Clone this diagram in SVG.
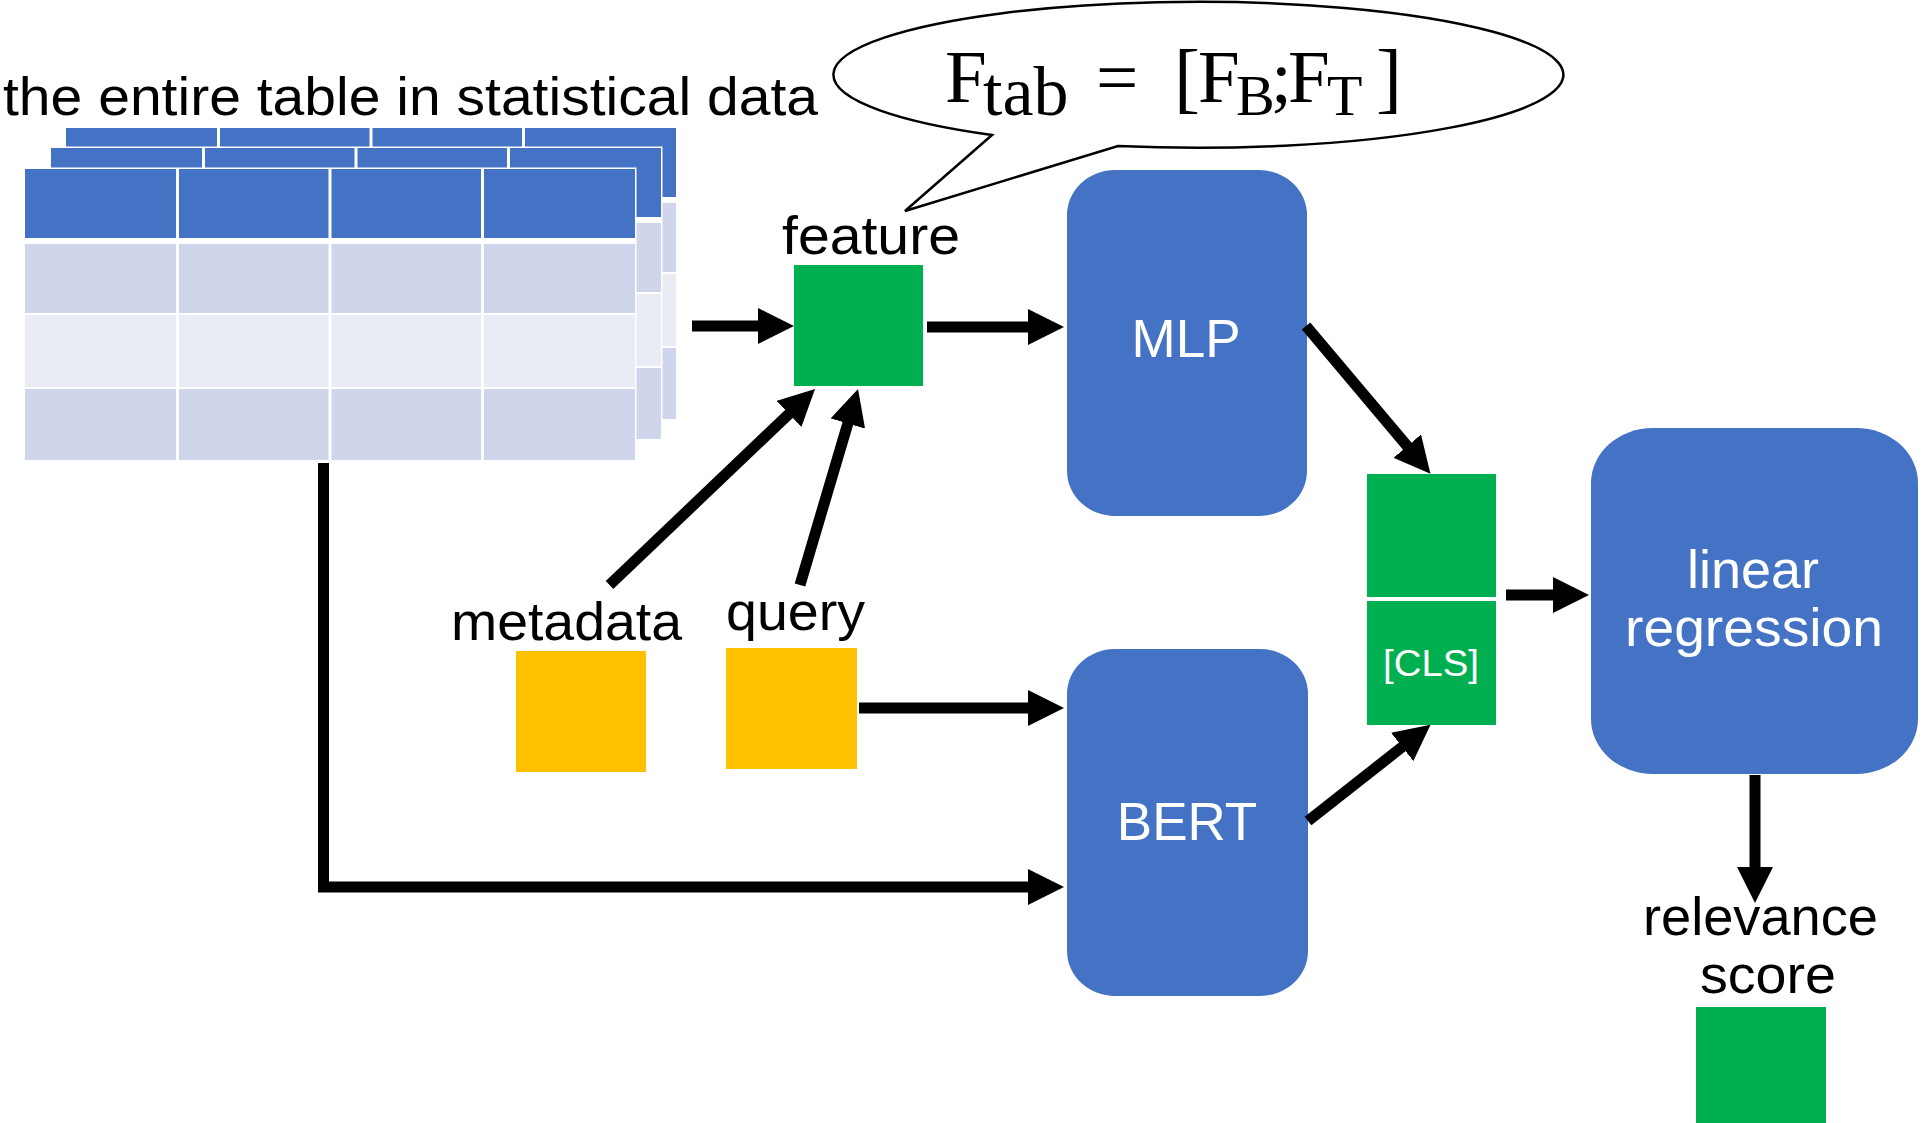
<svg xmlns="http://www.w3.org/2000/svg" width="1921" height="1123" viewBox="0 0 1921 1123">
  <style>
    .lbl { font-family: "Liberation Sans", Arial, sans-serif; fill: #000; }
    .wlbl { font-family: "Liberation Sans", Arial, sans-serif; fill: #fff; text-anchor: middle; }
    .math { font-family: "Liberation Serif", "Times New Roman", serif; fill: #000; }
    .blue { fill: #4472C4; }
    .green { fill: #00B050; }
    .yellow { fill: #FFC000; }
    .conn { fill: none; stroke: #000; stroke-width: 11; stroke-linejoin: miter; marker-end: url(#ah); }
    .hdr { fill: #4472C4; }
    .r1 { fill: #CFD5EA; }
    .r2 { fill: #E9EBF5; }
    .grid { stroke: #fff; stroke-width: 3; fill: none; }
  </style>
  <defs>
    <marker id="ah" markerUnits="userSpaceOnUse" markerWidth="36" markerHeight="36" viewBox="0 0 36 36" refX="1" refY="18" orient="auto">
      <path d="M0,0 L36,18 L0,36 Z" fill="#000"/>
    </marker>
    <g id="table">
      <rect x="0" y="0" width="610" height="291" fill="#fff" stroke="#fff" stroke-width="3"/>
      <rect class="hdr" x="0" y="0" width="610" height="69"/>
      <rect class="r1" x="0" y="75" width="610" height="69"/>
      <rect class="r2" x="0" y="146" width="610" height="72"/>
      <rect class="r1" x="0" y="220" width="610" height="71"/>
      <path class="grid" d="M152.5,0V291 M305,0V291 M457.5,0V291"/>
    </g>
  </defs>
  <rect width="1921" height="1123" fill="#fff"/>

  <g id="tables">
    <use href="#table" x="66" y="128"/>
    <use href="#table" x="51" y="148"/>
    <use href="#table" x="25" y="169"/>
    <text class="lbl" x="3" y="115" style="font-size:53px" textLength="815" lengthAdjust="spacingAndGlyphs">the entire table in statistical data</text>
  </g>

  <g id="bubble">
    <path d="M992,135 L905,211 L1118,146 A365,73 0 1 0 992,135 Z" fill="#fff" stroke="#000" stroke-width="2.5" stroke-linejoin="miter"/>
    <text class="math" font-size="75"><tspan x="945" y="102">F</tspan><tspan x="983" y="115" font-size="70">tab</tspan><tspan x="1096" y="102">=</tspan><tspan x="1174" y="104" font-size="78">[</tspan><tspan x="1198" y="102">F</tspan><tspan x="1236" y="115" font-size="58">B</tspan><tspan x="1271" y="102">;</tspan><tspan x="1288" y="102">F</tspan><tspan x="1327" y="115" font-size="58">T</tspan><tspan x="1376" y="104" font-size="78">]</tspan></text>
  </g>

  <g id="feature">
    <text class="lbl" x="782" y="254" style="font-size:53px" textLength="178" lengthAdjust="spacingAndGlyphs">feature</text>
    <rect class="green" x="794" y="265" width="129" height="121"/>
  </g>

  <g id="metadata">
    <text class="lbl" x="451" y="640" style="font-size:54px" textLength="231" lengthAdjust="spacingAndGlyphs">metadata</text>
    <rect class="yellow" x="516" y="651" width="130" height="121"/>
  </g>

  <g id="query">
    <text class="lbl" x="726" y="630" style="font-size:54px" textLength="139" lengthAdjust="spacingAndGlyphs">query</text>
    <rect class="yellow" x="726" y="648" width="131" height="121"/>
  </g>

  <g id="mlp">
    <rect class="blue" x="1067" y="170" width="240" height="346" rx="48" ry="45"/>
    <text class="wlbl" x="1186" y="357" style="font-size:53px">MLP</text>
  </g>

  <g id="bert">
    <rect class="blue" x="1067" y="649" width="241" height="347" rx="48" ry="45"/>
    <text class="wlbl" x="1187" y="840" style="font-size:53px">BERT</text>
  </g>

  <g id="concat">
    <rect class="green" x="1367" y="474" width="129" height="123"/>
    <rect class="green" x="1367" y="601" width="129" height="124"/>
    <text class="wlbl" x="1431" y="676" style="font-size:36px" textLength="96" lengthAdjust="spacingAndGlyphs">[CLS]</text>
  </g>

  <g id="linreg">
    <rect class="blue" x="1591" y="428" width="327" height="346" rx="62" ry="55"/>
    <text class="wlbl" x="1753" y="588" style="font-size:54px">linear</text>
    <text class="wlbl" x="1754" y="646" style="font-size:54px" textLength="258" lengthAdjust="spacingAndGlyphs">regression</text>
  </g>

  <g id="score">
    <text class="lbl" x="1643" y="935" style="font-size:54px" textLength="235" lengthAdjust="spacingAndGlyphs">relevance</text>
    <text class="lbl" x="1700" y="993" style="font-size:54px" textLength="136" lengthAdjust="spacingAndGlyphs">score</text>
    <rect class="green" x="1696" y="1007" width="130" height="120"/>
  </g>

  <g id="connectors">
    <path class="conn" d="M692,326 H759"/>
    <path class="conn" d="M927,327 H1029"/>
    <path class="conn" d="M609.5,585 L789.7,413.2"/>
    <path class="conn" d="M800,585 L848.1,422.6"/>
    <path class="conn" d="M859,708 H1029"/>
    <path class="conn" d="M323.5,463 V887 H1029"/>
    <path class="conn" d="M1306,326 L1407.9,446.9"/>
    <path class="conn" d="M1308,821 L1403,746.3"/>
    <path class="conn" d="M1506,595 H1554"/>
    <path class="conn" d="M1755,775 V868"/>
  </g>
</svg>
